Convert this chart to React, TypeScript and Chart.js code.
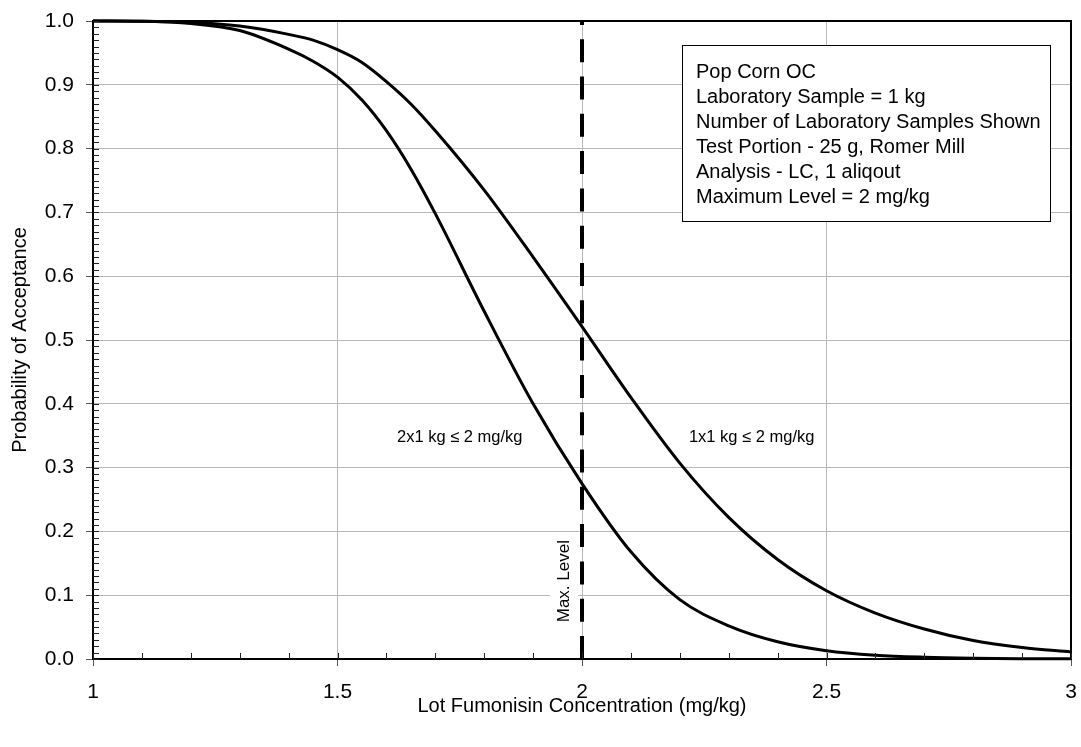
import React, { useEffect, useRef } from "react";
import { Chart, registerables } from "chart.js";

Chart.register(...registerables);

// ---- Data ----
const concentrations = [1.0, 1.1, 1.2, 1.3, 1.4, 1.45, 1.5, 1.55, 1.6, 1.65, 1.7, 1.8, 1.9, 2.0, 2.1, 2.2, 2.3, 2.4, 2.5, 2.6, 2.7, 2.8, 2.9, 3.0];
const oneByOneKg = [1.0, 0.9995, 0.998, 0.992, 0.979, 0.97, 0.955, 0.935, 0.905, 0.87, 0.828, 0.735, 0.63, 0.521, 0.41, 0.307, 0.222, 0.156, 0.107, 0.072, 0.047, 0.029, 0.018, 0.011];
const twoByOneKg = [1.0, 0.9995, 0.996, 0.985, 0.956, 0.937, 0.912, 0.876, 0.828, 0.768, 0.698, 0.545, 0.4, 0.275, 0.168, 0.093, 0.052, 0.027, 0.013, 0.006, 0.0028, 0.0012, 0.0005, 0.0002];
const maxLevel = 2;
const maxLevelLine = [0, 1];
const xTickLabels = ["1", "1.5", "2", "2.5", "3"];
const infoLines = [
  "Pop Corn OC",
  "Laboratory Sample = 1 kg",
  "Number of Laboratory Samples Shown",
  "Test Portion - 25 g, Romer Mill",
  "Analysis - LC, 1 aliqout",
  "Maximum Level = 2 mg/kg",
];
const curveLabels = [
  { text: "2x1 kg \u2264 2 mg/kg", x: 1.75, y: 0.3475 },
  { text: "1x1 kg \u2264 2 mg/kg", x: 2.347, y: 0.3475 },
];
const maxLevelLabel = { text: "Max. Level", x: 1.963, y: 0.122 };

const FONT = "'Liberation Sans', Arial, sans-serif";

const decorPlugin = {
  id: "decor",
  beforeDatasetsDraw(chart: any) {
    const ctx = chart.ctx;
    const xs = chart.scales.x;
    const ys = chart.scales.y;
    // "Max. Level" vertical text with white background
    const cx = xs.getPixelForValue(maxLevelLabel.x);
    const cy = ys.getPixelForValue(maxLevelLabel.y);
    ctx.save();
    ctx.font = `17px ${FONT}`;
    const w = ctx.measureText(maxLevelLabel.text).width;
    ctx.fillStyle = "#ffffff";
    ctx.fillRect(cx - 14, cy - w / 2 - 5, 28, w + 10);
    ctx.translate(cx, cy);
    ctx.rotate(-Math.PI / 2);
    ctx.fillStyle = "#000";
    ctx.textAlign = "center";
    ctx.textBaseline = "middle";
    ctx.fillText(maxLevelLabel.text, 0, 0);
    ctx.restore();
  },
  afterDatasetsDraw(chart: any) {
    const ctx = chart.ctx;
    const xs = chart.scales.x;
    const ys = chart.scales.y;
    const area = chart.chartArea;
    ctx.save();
    // top & right frame
    ctx.strokeStyle = "#000";
    ctx.lineWidth = 2;
    ctx.beginPath();
    ctx.moveTo(area.left, area.top);
    ctx.lineTo(area.right, area.top);
    ctx.lineTo(area.right, area.bottom);
    ctx.stroke();
    // minor ticks (inside)
    ctx.lineWidth = 1;
    ctx.strokeStyle = "#222";
    ctx.beginPath();
    for (let i = 0; i <= 100; i++) {
      const py = Math.round(ys.getPixelForValue(i / 100)) + 0.5;
      ctx.moveTo(area.left, py);
      ctx.lineTo(area.left + 6, py);
    }
    for (let i = 0; i <= 20; i++) {
      const px = Math.round(xs.getPixelForValue(1 + i / 10)) + 0.5;
      ctx.moveTo(px, area.bottom);
      ctx.lineTo(px, area.bottom - 6);
    }
    ctx.stroke();

    // curve labels
    ctx.fillStyle = "#000";
    ctx.font = `16.5px ${FONT}`;
    ctx.textAlign = "center";
    ctx.textBaseline = "middle";
    for (const l of curveLabels) {
      ctx.fillText(l.text, xs.getPixelForValue(l.x), ys.getPixelForValue(l.y));
    }

    // info box
    const bx = area.left + 589;
    const by = area.top + 24;
    const bw = 368;
    const bh = 176;
    ctx.fillStyle = "#fff";
    ctx.fillRect(bx, by, bw, bh);
    ctx.strokeStyle = "#000";
    ctx.lineWidth = 1;
    ctx.strokeRect(bx + 0.5, by + 0.5, bw, bh);
    ctx.fillStyle = "#000";
    ctx.font = `20px ${FONT}`;
    ctx.textAlign = "left";
    ctx.textBaseline = "middle";
    infoLines.forEach((t, i) => {
      ctx.fillText(t, bx + 14, by + 27 + i * 25);
    });
    ctx.restore();
  },
};

export default function App() {
  const ref = useRef<HTMLCanvasElement>(null);
  useEffect(() => {
    if (!ref.current) return;
    const chart = new Chart(ref.current, {
      type: "line",
      data: {
        datasets: [
          {
            label: "1x1 kg",
            data: concentrations.map((x, i) => ({ x, y: oneByOneKg[i] })),
            borderColor: "#000",
            borderWidth: 3,
            pointRadius: 0,
            cubicInterpolationMode: "monotone",
            fill: false,
            clip: 4,
          },
          {
            label: "2x1 kg",
            data: concentrations.map((x, i) => ({ x, y: twoByOneKg[i] })),
            borderColor: "#000",
            borderWidth: 3,
            pointRadius: 0,
            cubicInterpolationMode: "monotone",
            fill: false,
            clip: 4,
          },
          {
            label: "Max. Level",
            data: maxLevelLine.map((y) => ({ x: maxLevel, y })),
            borderColor: "#000",
            borderWidth: 4,
            borderDash: [23, 14.3],
            pointRadius: 0,
            fill: false,
            clip: 4,
          },
        ],
      },
      options: {
        animation: false,
        responsive: false,
        devicePixelRatio: 1,
        layout: { padding: { top: 21, right: 10, left: 0, bottom: 0 } },
        plugins: { legend: { display: false }, tooltip: { enabled: false } },
        scales: {
          x: {
            type: "linear",
            min: 1,
            max: 3,
            afterFit: (s: any) => {
              s.height = 88;
              s.paddingLeft = 0;
              s.paddingRight = 0;
            },
            ticks: {
              stepSize: 0.5,
              padding: 14,
              color: "#000",
              font: { family: FONT, size: 21 },
              maxRotation: 0,
              callback: (v: any) => {
                const idx = Math.round((Number(v) - 1) / 0.5);
                return xTickLabels[idx] ?? "";
              },
            },
            grid: {
              color: "#b8b8b8",
              lineWidth: 1,
              tickLength: 7,
              tickColor: "#555",
              tickWidth: 1,
            },
            border: { display: true, color: "#000", width: 2 },
            title: {
              display: true,
              text: "Lot Fumonisin Concentration (mg/kg)",
              color: "#000",
              font: { family: FONT, size: 20 },
              padding: { top: 0, bottom: 29 },
            },
          },
          y: {
            type: "linear",
            min: 0,
            max: 1,
            afterFit: (s: any) => {
              s.width = 93;
              s.paddingTop = 0;
              s.paddingBottom = 0;
            },
            ticks: {
              stepSize: 0.1,
              padding: 12,
              color: "#000",
              font: { family: FONT, size: 21 },
              callback: (v: any) => Number(v).toFixed(1),
            },
            grid: {
              color: "#b8b8b8",
              lineWidth: 1,
              tickLength: 7,
              tickColor: "#555",
              tickWidth: 1,
            },
            border: { display: true, color: "#000", width: 2 },
            title: {
              display: true,
              text: "Probability of Acceptance",
              color: "#000",
              font: { family: FONT, size: 20 },
              padding: { top: 8, bottom: 0 },
            },
          },
        },
      },
      plugins: [decorPlugin],
    } as any);
    return () => chart.destroy();
  }, []);
  return (
    <div style={{ position: "absolute", left: 0, top: 0, width: 1081, height: 747, background: "#fff" }}>
      <canvas ref={ref} width={1081} height={747} style={{ display: "block" }} />
    </div>
  );
}
